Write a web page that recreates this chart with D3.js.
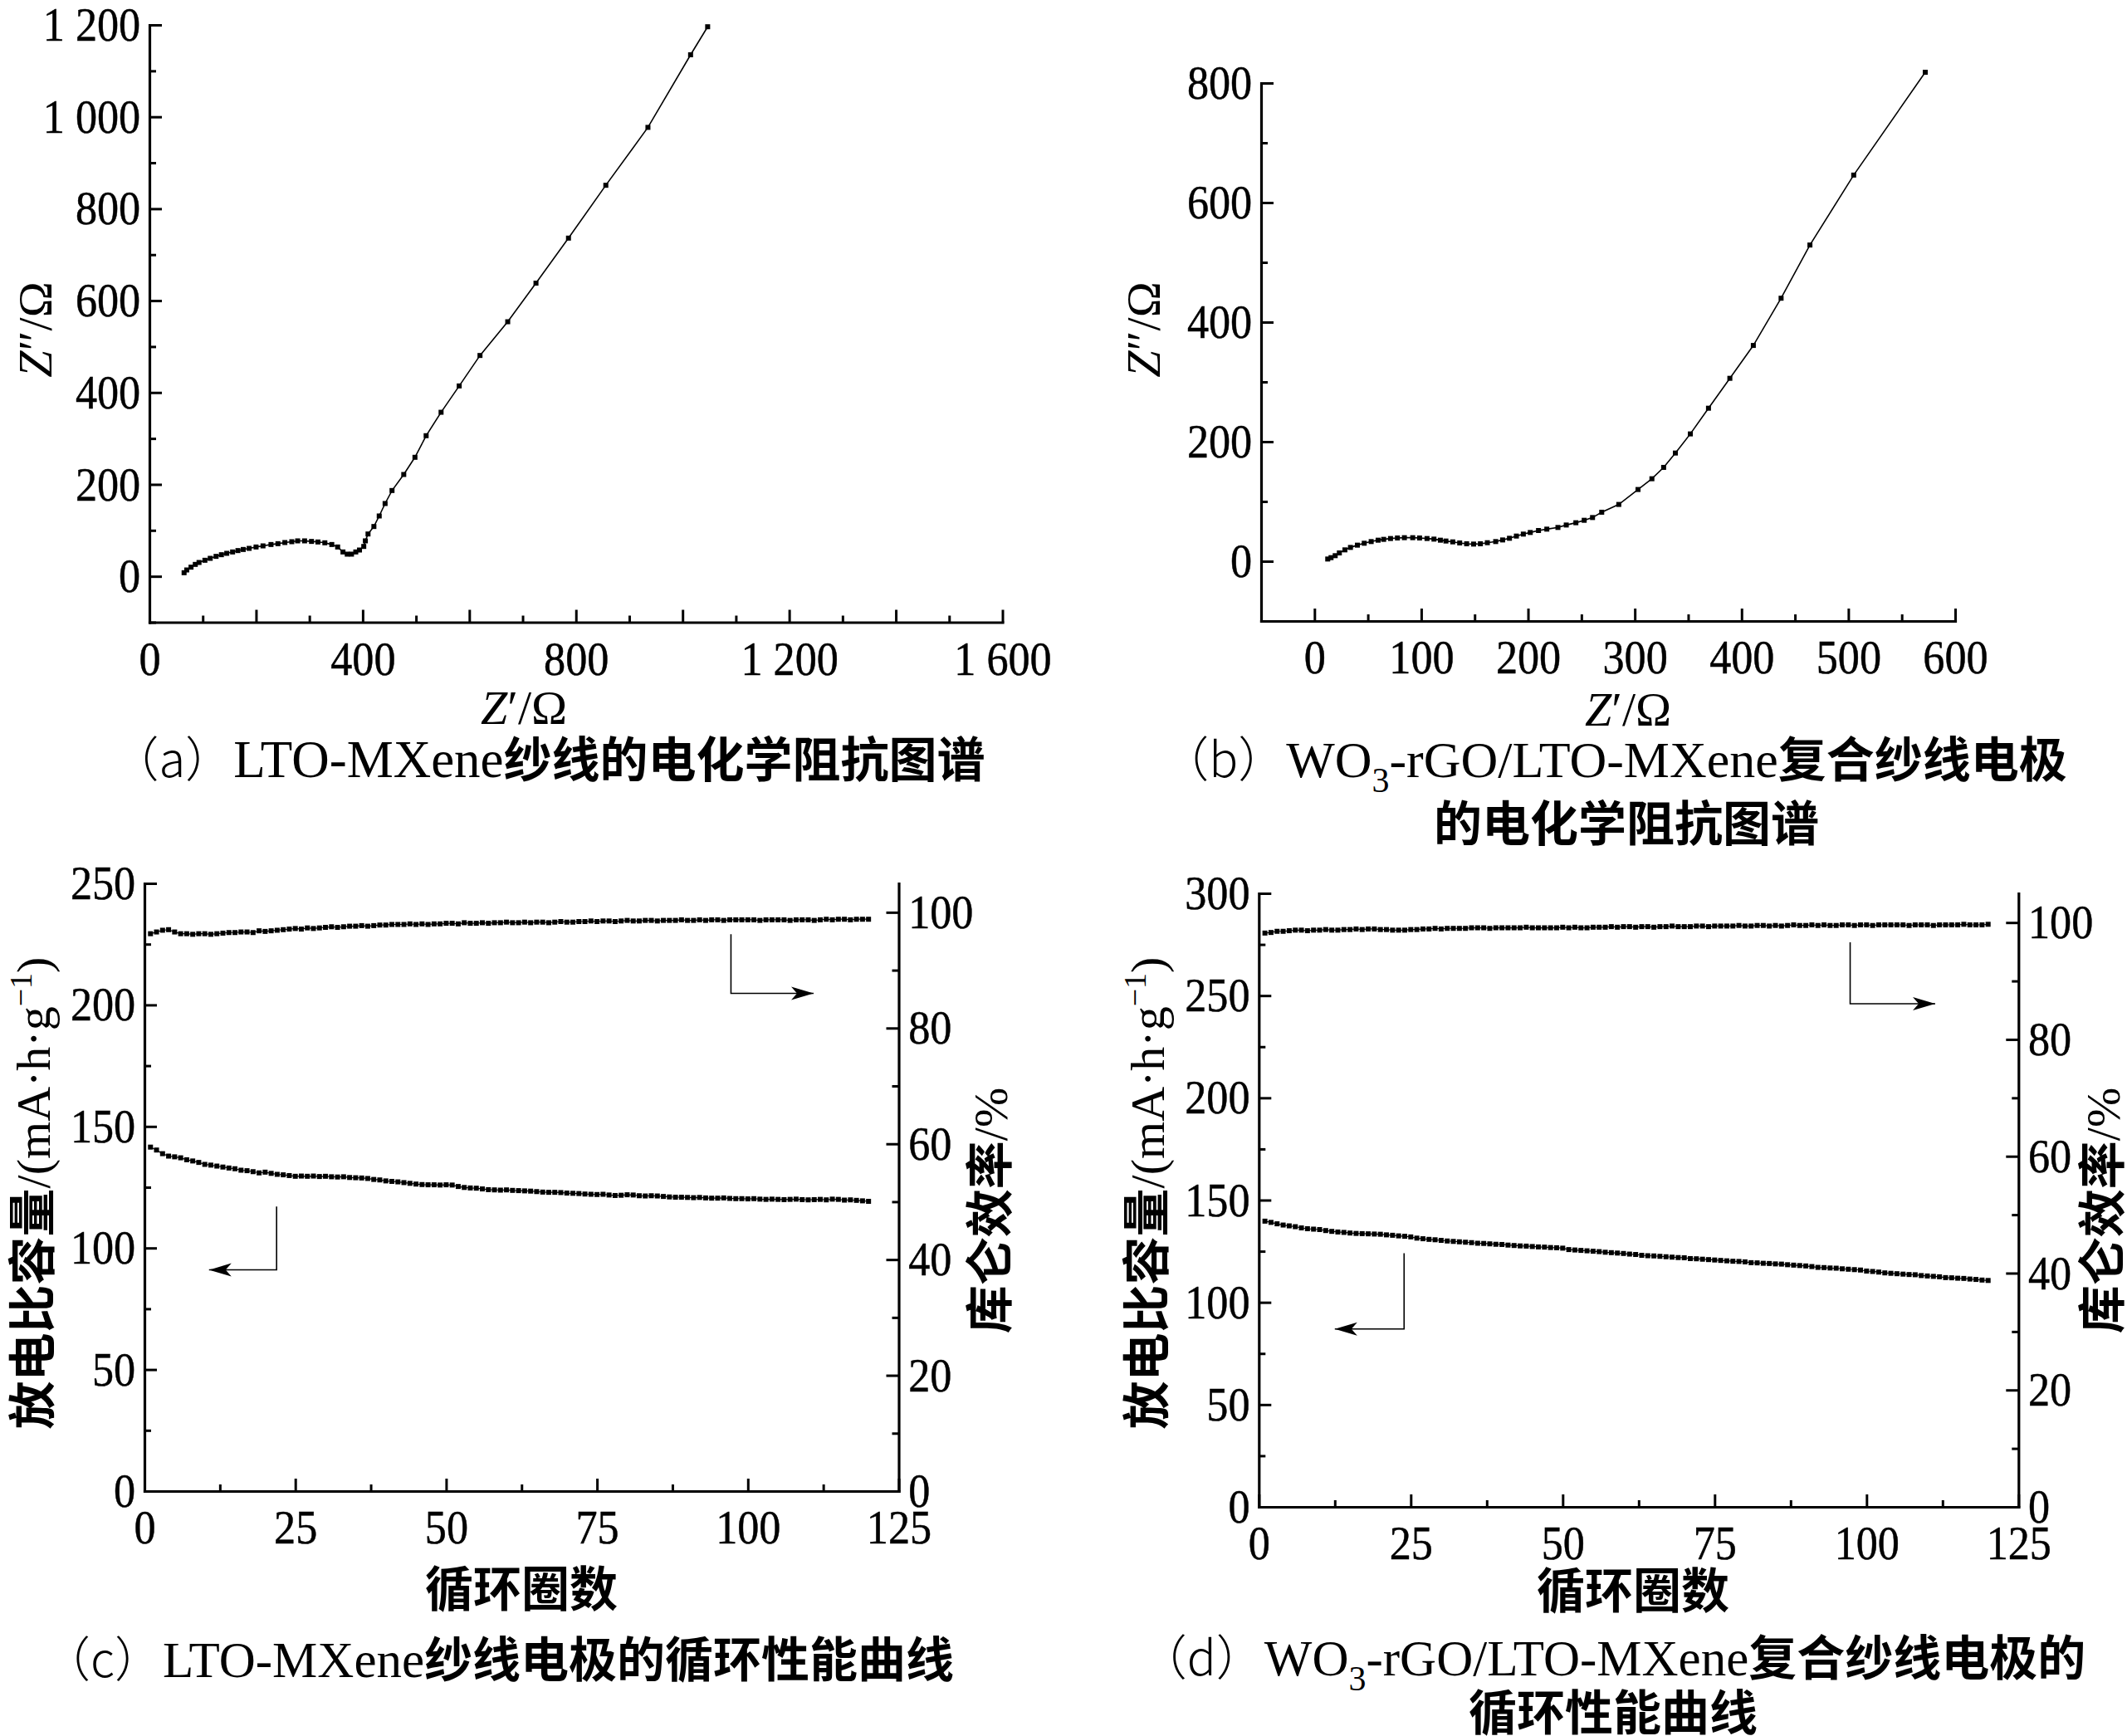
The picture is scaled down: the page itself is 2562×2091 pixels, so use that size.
<!DOCTYPE html>
<html>
<head>
<meta charset="utf-8">
<script src="https://cdn.jsdelivr.net/npm/d3@7"></script>
<style>
  body { margin: 0; background: #fff; }
  svg { display: block; }
</style>
</head>
<body>
<div id="chart"></div>
<script>
/*** dados ***/

// (a) LTO-MXene, Nyquist
var aZre = [65, 70, 78, 86, 93, 104, 114, 125, 135, 145, 156, 166, 176, 187, 200, 213, 228, 241, 254, 267,
  278, 291, 304, 316, 329, 342, 353, 363, 371, 379, 387, 394, 402, 405, 410, 421, 431, 442, 455, 477,
  498, 519, 547, 581, 620, 672, 725, 786, 856, 935, 1015, 1047];
var aZim = [7.8, 13.8, 19.9, 25.9, 30.1, 34.9, 39.1, 43.4, 47, 50, 53, 56, 58.4, 60.8, 63.8, 66.2, 69.2, 71, 73.5, 75.3,
  77.1, 77.1, 75.9, 74.7, 72.9, 69.2, 63.8, 53, 48.2, 48.2, 53, 57.2, 65, 77.1, 92.1, 108.4, 131.3, 158.4, 186.7, 221.6,
  259, 306, 357, 414.3, 480.6, 554, 638, 736, 851, 977, 1135, 1196];

// (b) WO3-rGO/LTO-MXene, Nyquist
var bZre = [12.4, 15.5, 19.4, 23.3, 28.5, 33.7, 40.2, 46.6, 53.1, 59.6, 64.8, 71.2, 77.7, 84.2, 92, 98.4, 105.4, 111.9, 117.9, 123.1,
  129.5, 136, 142.5, 149, 155.4, 161.9, 169.7, 176.2, 182.6, 189.1, 195.6, 202.1, 209.8, 217.6, 228, 235.8, 244.8, 252.6, 260.4, 269,
  285, 303, 316, 327, 338, 352, 369, 389, 411, 437, 464, 505, 572];
var bZim = [3.7, 6, 9.3, 13.9, 19, 23.1, 26.9, 30.1, 32.9, 35.2, 36.6, 38, 38.9, 39.4, 39.4, 38.9, 38, 37, 35.2, 33.8,
  32.4, 30.6, 29.2, 28.7, 29.2, 31, 32.9, 35.6, 38.4, 42.1, 45.4, 48.1, 51.4, 53.7, 56.5, 60.6, 64.4, 68.5, 73.1, 82,
  95, 120, 138, 157, 181, 213, 256, 306, 361, 440, 529, 646, 818];

// (c) ciclos LTO-MXene: capacidade e eficiência coulômbica
var capC = [141.5, 140.3, 138.8, 137.8, 137.5, 137.1, 136.3, 135.8, 135.2, 134.4,
  134.1, 133.7, 133.3, 132.9, 132.6, 132.0, 131.8, 131.4, 130.9, 131.2,
  130.7, 130.3, 130.1, 129.8, 129.5, 129.6, 129.5, 129.6, 129.4, 129.5,
  129.3, 129.2, 129.3, 129.0, 128.9, 128.8, 128.6, 128.2, 128.0, 127.6,
  127.4, 127.2, 126.9, 126.6, 126.3, 126.1, 126.0, 126.0, 125.9, 126.0,
  125.9, 125.3, 124.9, 124.7, 124.6, 124.3, 124.0, 123.9, 123.8, 123.9,
  123.7, 123.6, 123.5, 123.4, 123.2, 123.0, 122.9, 122.9, 122.8, 122.6,
  122.5, 122.4, 122.2, 122.1, 122.0, 122.1, 121.8, 121.6, 121.7, 121.9,
  121.8, 121.5, 121.4, 121.5, 121.4, 121.2, 121.0, 120.9, 120.9, 120.8,
  120.7, 120.8, 120.6, 120.5, 120.5, 120.6, 120.4, 120.3, 120.3, 120.2,
  120.3, 120.1, 120.0, 120.1, 120.0, 119.9, 120.0, 120.1, 119.9, 119.8,
  119.9, 120.0, 119.8, 120.1, 120.0, 119.7, 119.8, 119.6, 119.4, 119.2];
var ceC = [96.3, 96.6, 96.9, 97.0, 96.6, 96.3, 96.3, 96.2, 96.3, 96.3,
  96.2, 96.3, 96.4, 96.5, 96.5, 96.6, 96.6, 96.5, 96.8, 96.7,
  96.8, 96.9, 97.0, 97.1, 97.2, 97.1, 97.3, 97.2, 97.3, 97.4,
  97.5, 97.4, 97.5, 97.6, 97.6, 97.7, 97.6, 97.7, 97.8, 97.8,
  97.9, 97.9, 97.9, 98.0, 97.9, 98.0, 97.9, 98.0, 98.0, 98.1,
  98.1, 98.0, 98.2, 98.1, 98.1, 98.2, 98.1, 98.2, 98.2, 98.3,
  98.2, 98.2, 98.3, 98.2, 98.3, 98.3, 98.2, 98.3, 98.4, 98.3,
  98.3, 98.4, 98.4, 98.5, 98.4, 98.5, 98.5, 98.4, 98.5, 98.6,
  98.5, 98.5, 98.6, 98.6, 98.5, 98.6, 98.6, 98.6, 98.7, 98.6,
  98.6, 98.7, 98.6, 98.7, 98.7, 98.6, 98.7, 98.7, 98.7, 98.7,
  98.7, 98.6, 98.7, 98.7, 98.7, 98.7, 98.6, 98.7, 98.7, 98.7,
  98.6, 98.7, 98.8, 98.7, 98.8, 98.8, 98.7, 98.8, 98.8, 98.8];

// (d) ciclos WO3-rGO/LTO-MXene
var capD = [139.7, 139.1, 138.4, 137.8, 137.4, 137.0, 136.4, 136.0, 135.8, 135.6,
  135.1, 134.7, 134.4, 134.2, 133.9, 133.7, 133.6, 133.5, 133.4, 133.3,
  133.0, 132.8, 132.5, 132.3, 132.0, 131.4, 131.1, 130.8, 130.6, 130.3,
  130.0, 129.8, 129.6, 129.4, 129.2, 128.9, 128.8, 128.6, 128.4, 128.3,
  128.0, 127.8, 127.6, 127.5, 127.3, 127.1, 127.0, 126.8, 126.7, 126.5,
  125.8, 125.6, 125.4, 125.2, 125.0, 124.8, 124.5, 124.3, 124.1, 123.9,
  123.6, 123.4, 123.0, 122.8, 122.7, 122.5, 122.3, 122.1, 121.9, 121.8,
  121.4, 121.3, 121.1, 120.9, 120.7, 120.5, 120.3, 120.1, 120.0, 119.8,
  119.4, 119.3, 119.1, 119.0, 118.8, 118.7, 118.4, 118.2, 118.0, 117.8,
  117.5, 117.1, 117.0, 116.8, 116.7, 116.4, 116.2, 116.0, 115.8, 115.3,
  115.1, 114.8, 114.4, 114.2, 114.0, 113.8, 113.6, 113.5, 113.1, 112.9,
  112.7, 112.5, 112.1, 112.0, 111.8, 111.7, 111.4, 111.2, 110.9, 110.7];
var ceD = [98.2, 98.3, 98.5, 98.5, 98.6, 98.7, 98.7, 98.6, 98.7, 98.7,
  98.8, 98.7, 98.7, 98.8, 98.8, 98.9, 98.8, 98.9, 98.9, 98.8,
  98.8, 98.7, 98.7, 98.7, 98.8, 98.8, 98.9, 98.9, 99.0, 98.9,
  99.0, 99.0, 99.0, 99.0, 99.1, 99.1, 99.1, 99.0, 99.1, 99.1,
  99.1, 99.1, 99.1, 99.2, 99.1, 99.1, 99.1, 99.1, 99.1, 99.2,
  99.1, 99.2, 99.1, 99.1, 99.2, 99.2, 99.2, 99.3, 99.2, 99.3,
  99.3, 99.2, 99.3, 99.3, 99.2, 99.3, 99.3, 99.4, 99.3, 99.3,
  99.3, 99.4, 99.4, 99.3, 99.4, 99.4, 99.4, 99.4, 99.5, 99.4,
  99.4, 99.5, 99.5, 99.4, 99.5, 99.4, 99.5, 99.6, 99.5, 99.5,
  99.6, 99.5, 99.6, 99.5, 99.5, 99.6, 99.6, 99.5, 99.6, 99.6,
  99.5, 99.6, 99.6, 99.6, 99.6, 99.6, 99.5, 99.6, 99.6, 99.6,
  99.5, 99.6, 99.6, 99.6, 99.6, 99.7, 99.6, 99.6, 99.6, 99.7];

// ticks e rótulos
var aXTicks = [0, 200, 400, 600, 800, 1000, 1200, 1400, 1600];
var aXLabels = ["0", "", "400", "", "800", "", "1 200", "", "1 600"];
var aXMinor = [100, 300, 500, 700, 900, 1100, 1300, 1500];
var aYTicks = [0, 200, 400, 600, 800, 1000, 1200];
var aYLabels = ["0", "200", "400", "600", "800", "1 000", "1 200"];
var aYMinor = [-100, 100, 300, 500, 700, 900, 1100];

var bXTicks = [0, 100, 200, 300, 400, 500, 600];
var bXLabels = ["0", "100", "200", "300", "400", "500", "600"];
var bXMinor = [-50, 50, 150, 250, 350, 450, 550];
var bYTicks = [0, 200, 400, 600, 800];
var bYLabels = ["0", "200", "400", "600", "800"];
var bYMinor = [-100, 100, 300, 500, 700];

var cycTicks = [0, 25, 50, 75, 100, 125];
var cycLabels = ["0", "25", "50", "75", "100", "125"];
var cycMinor = [12.5, 37.5, 62.5, 87.5, 112.5];
var cCapTicks = [0, 50, 100, 150, 200, 250];
var cCapLabels = ["0", "50", "100", "150", "200", "250"];
var cCapMinor = [25, 75, 125, 175, 225];
var dCapTicks = [0, 50, 100, 150, 200, 250, 300];
var dCapLabels = ["0", "50", "100", "150", "200", "250", "300"];
var dCapMinor = [25, 75, 125, 175, 225, 275];
var ceTicks = [0, 20, 40, 60, 80, 100];
var ceLabels = ["0", "20", "40", "60", "80", "100"];
var ceMinor = [10, 30, 50, 70, 90];

var LAT = "'Liberation Serif', 'Times New Roman', serif";
var CJK = "'Noto Sans CJK SC', sans-serif";
var FS = 58;

var svg = d3.select('#chart').append('svg')
    .attr('width', 2562)
    .attr('height', 2091);
svg.append('rect').attr('width', 2562).attr('height', 2091).attr('fill', '#fff');

// seta
svg.append('defs').append('marker')
    .attr('id', 'seta')
    .attr('markerUnits', 'userSpaceOnUse')
    .attr('viewBox', '-28 -10 30 20')
    .attr('refX', 0).attr('refY', 0)
    .attr('markerWidth', 30).attr('markerHeight', 20)
    .attr('orient', 'auto')
    .append('path')
    .attr('d', 'M0,0L-27,-8L-20,0L-27,8Z')
    .attr('fill', '#000');

/*** eixos ***/
function eixo(kind, scale, pos, ticks, labels, minor, pad) {
    var gen = kind == 'left' ? d3.axisLeft : kind == 'right' ? d3.axisRight : d3.axisBottom;
    var tr = kind == 'bottom' ? 'translate(0,' + pos + ')' : 'translate(' + pos + ',0)';
    var g = svg.append('g').attr('transform', tr);
    g.call(gen(scale).tickValues(minor).tickSize(-8).tickSizeOuter(0).tickFormat(''));
    g.select('.domain').remove();
    var g2 = svg.append('g').attr('transform', tr);
    g2.call(gen(scale).tickValues(ticks).tickSize(-15).tickSizeOuter(0).tickPadding(pad)
        .tickFormat(function (d, i) { return labels[i]; }));
    g.selectAll('line').attr('stroke-width', 3);
    g2.selectAll('line').attr('stroke-width', 3);
    g2.select('.domain').attr('stroke-width', 3.2).attr('stroke-linecap', 'square');
    // fonte do original é um pouco estreita
    g2.selectAll('text')
        .attr('font-family', LAT)
        .attr('font-size', FS)
        .attr('fill', '#000')
        .attr('stroke', '#000')
        .attr('stroke-width', 0.5)
        .attr('transform', 'scale(0.9,1)');
    return g2;
}

function serie(xs, ys, sx, sy, lw, sz) {
    var pts = xs.map(function (x, i) { return [x, ys[i]]; });
    var line = d3.line().x(function (d) { return sx(d[0]); }).y(function (d) { return sy(d[1]); });
    svg.append('path').datum(pts)
        .attr('d', line)
        .attr('fill', 'none')
        .attr('stroke', '#000')
        .attr('stroke-width', lw);
    svg.append('g').selectAll('rect').data(pts).enter().append('rect')
        .attr('x', function (d) { return sx(d[0]) - sz / 2; })
        .attr('y', function (d) { return sy(d[1]) - sz / 2; })
        .attr('width', sz).attr('height', sz)
        .attr('fill', '#000');
}

function seta(sx, sy, x0, y0, y1, x1) {
    svg.append('path')
        .attr('d', d3.line()([[sx(x0), sy(y0)], [sx(x0), sy(y1)], [sx(x1), sy(y1)]]))
        .attr('fill', 'none')
        .attr('stroke', '#000')
        .attr('stroke-width', 1.6)
        .attr('marker-end', 'url(#seta)');
}

// texto misto: partes [texto, tipo]; lfs = tamanho do texto latino
function texto(x, y, rot, parts, lfs) {
    lfs = lfs || FS;
    var t = svg.append('text')
        .attr('transform', 'translate(' + x + ',' + y + ')' + (rot ? ' rotate(' + rot + ')' : ''))
        .attr('text-anchor', 'middle')
        .attr('font-size', FS)
        .attr('fill', '#000');
    parts.forEach(function (p) {
        var s = t.append('tspan').text(p[0]);
        if (p[1] == 'cjk') s.attr('font-family', CJK).attr('font-weight', 700);
        else if (p[1] == 'par') s.attr('font-family', CJK).attr('font-weight', 300);
        else if (p[1] == 'it') s.attr('font-family', LAT).attr('font-style', 'italic');
        else if (p[1] == 'sub') s.attr('font-family', LAT).attr('font-size', 42).attr('dy', 18);
        else if (p[1] == 'sup') s.attr('font-family', LAT).attr('font-size', 38).attr('dy', -22);
        else if (p[1] == 'back') s.attr('font-family', LAT).attr('font-size', lfs).attr('dy', p[2]);
        else s.attr('font-family', LAT).attr('font-size', lfs);
    });
    return t;
}

/*** (a) ***/
var xA = d3.scaleLinear().domain([0, 1600]).range([180, 1207.5]);
var yA = d3.scaleLinear().domain([-100, 1200]).range([749.5, 30]);
eixo('bottom', xA, 749.5, aXTicks, aXLabels, aXMinor, 22);
eixo('left', yA, 180, aYTicks, aYLabels, aYMinor, 12);
serie(aZre, aZim, xA, yA, 1.6, 6);
texto(631, 872, 0, [['Z', 'it'], ['′/Ω', 'lat']]);
texto(62, 397, -90, [['Z', 'it'], ['″/Ω', 'lat']]);
texto(660, 936, 0, [['（a）', 'par'], ['LTO-MXene', 'lat'], ['纱线的电化学阻抗图谱', 'cjk']], 63);

/*** (b) ***/
var xB = d3.scaleLinear().domain([-50, 600]).range([1519, 2355]);
var yB = d3.scaleLinear().domain([-100, 800]).range([748, 100]);
eixo('bottom', xB, 748, bXTicks, bXLabels, bXMinor, 22);
eixo('left', yB, 1519, bYTicks, bYLabels, bYMinor, 12);
serie(bZre, bZim, xB, yB, 1.6, 6);
texto(1961, 874, 0, [['Z', 'it'], ['′/Ω', 'lat']]);
texto(1397, 397, -90, [['Z', 'it'], ['″/Ω', 'lat']]);
texto(1944, 936, 0, [['（b）', 'par'], ['WO', 'lat'], ['3', 'sub'], ['-rGO/LTO-MXene', 'back', -18], ['复合纱线电极', 'cjk']], 62);
texto(1959, 1013, 0, [['的电化学阻抗图谱', 'cjk']]);

/*** (c) ***/
var cycles = d3.range(1, 121);
var xC = d3.scaleLinear().domain([0, 125]).range([174, 1082.5]);
var yCL = d3.scaleLinear().domain([0, 250]).range([1796, 1064]);
var yCR = d3.scaleLinear().domain([0, 105]).range([1796, 1064]);
eixo('bottom', xC, 1796, cycTicks, cycLabels, cycMinor, 22);
eixo('left', yCL, 174, cCapTicks, cCapLabels, cCapMinor, 12);
eixo('right', yCR, 1082.5, ceTicks, ceLabels, ceMinor, 13);
serie(cycles, capC, xC, yCL, 1.2, 6);
serie(cycles, ceC, xC, yCR, 1.2, 6);
seta(xC, yCR, 97.2, 96.2, 86.0, 110.9);
seta(xC, yCL, 21.9, 117.1, 91.0, 10.7);
texto(628, 1935, 0, [['循环圈数', 'cjk']]);
texto(60, 1437, -90, [['放电比容量', 'cjk'], ['/(mA·h·g', 'lat'], ['−1', 'sup'], [')', 'back', 22]]);
texto(1213, 1458, -90, [['库仑效率', 'cjk'], ['/%', 'lat']]);
texto(600, 2020, 0, [['（c）', 'par'], ['LTO-MXene', 'lat'], ['纱线电极的循环性能曲线', 'cjk']], 61);

/*** (d) ***/
var xD = d3.scaleLinear().domain([0, 125]).range([1516.3, 2431.3]);
var yDL = d3.scaleLinear().domain([0, 300]).range([1815, 1076]);
var yDR = d3.scaleLinear().domain([0, 105]).range([1815, 1076]);
eixo('bottom', xD, 1815, cycTicks, cycLabels, cycMinor, 22);
eixo('left', yDL, 1516.3, dCapTicks, dCapLabels, dCapMinor, 12);
eixo('right', yDR, 2431.3, ceTicks, ceLabels, ceMinor, 13);
serie(cycles, capD, xD, yDL, 1.2, 6);
serie(cycles, ceD, xD, yDR, 1.2, 6);
seta(xD, yDR, 97.3, 96.6, 86.1, 111.3);
seta(xD, yDL, 23.9, 124, 87, 12.5);
texto(1967, 1937, 0, [['循环圈数', 'cjk']]);
texto(1402, 1437, -90, [['放电比容量', 'cjk'], ['/(mA·h·g', 'lat'], ['−1', 'sup'], [')', 'back', 22]]);
texto(2553, 1458, -90, [['库仑效率', 'cjk'], ['/%', 'lat']]);
texto(1942, 2018, 0, [['（d）', 'par'], ['WO', 'lat'], ['3', 'sub'], ['-rGO/LTO-MXene', 'back', -18], ['复合纱线电极的', 'cjk']], 61);
texto(1943, 2084, 0, [['循环性能曲线', 'cjk']]);
</script>
</body>
</html>
